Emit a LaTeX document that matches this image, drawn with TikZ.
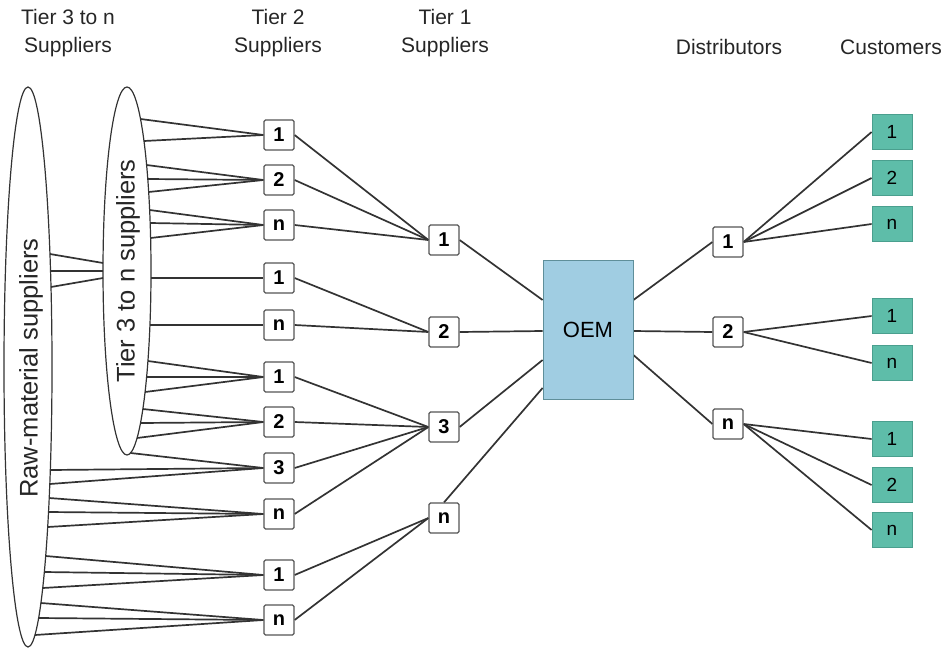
\documentclass[tikz,border=0pt]{standalone}
\usepackage{fontspec}
\setmainfont{Liberation Sans}
\usetikzlibrary{shapes.geometric,backgrounds}
\definecolor{custfill}{HTML}{5EBDA9}
\definecolor{custdraw}{HTML}{4A9F8E}
\definecolor{oemfill}{HTML}{A0CDE2}
\definecolor{oemdraw}{HTML}{5F8F9A}
\definecolor{linecol}{HTML}{333333}
\definecolor{boxdraw}{HTML}{555555}
\begin{document}
\begin{tikzpicture}[x=1pt,y=-1pt,
  header/.style={font=\fontsize{21}{28}\selectfont, align=center, text=black!85},
  tierbox/.style={draw=boxdraw, fill=white, line width=1.2pt, rounded corners=1.5pt,
    minimum width=30pt, minimum height=30pt, inner sep=0pt,
    font=\fontsize{20}{20}\selectfont\bfseries},
  custbox/.style={draw=custdraw, fill=custfill, line width=0.8pt,
    minimum width=40pt, minimum height=35pt, inner sep=0pt,
    font=\fontsize{19}{19}\selectfont},
  oembox/.style={draw=oemdraw, fill=oemfill, line width=0.8pt,
    minimum width=90pt, minimum height=139pt, inner sep=0pt,
    font=\fontsize{22}{22}\selectfont},
  oval/.style={draw=linecol, line width=1.2pt, ellipse, inner sep=0pt},
  ovaltext/.style={rotate=90, font=\fontsize{25.5}{25.5}\selectfont, text=black!85},
  link/.style={draw=linecol, line width=1.7pt}
]
\useasboundingbox (0,0) rectangle (945,648);

% headers
\node[header] (h3) at (68,33) {Tier 3 to n\\Suppliers};
\node[header] (h2) at (278,33) {Tier 2\\Suppliers};
\node[header] (h1) at (445,33) {Tier 1\\Suppliers};
\node[header] (hd) at (729,47) {Distributors};
\node[header] (hc) at (891,47) {Customers};

% ellipses
\node[oval, minimum width=48pt, minimum height=560pt] (raw) at (28,367) {};
\node[oval, minimum width=48pt, minimum height=368pt] (t3) at (127,271) {};
\node[ovaltext] (rawlab) at (31,368) {Raw-material suppliers};
\node[ovaltext] (t3lab) at (128,271) {Tier 3 to n suppliers};

% tier 2
\node[tierbox] (a1) at (279,135) {1};
\node[tierbox] (a2) at (279,180) {2};
\node[tierbox] (a3) at (279,225) {n};
\node[tierbox] (a4) at (279,278) {1};
\node[tierbox] (a5) at (279,325) {n};
\node[tierbox] (a6) at (279,377) {1};
\node[tierbox] (a7) at (279,422) {2};
\node[tierbox] (a8) at (279,468) {3};
\node[tierbox] (a9) at (279,514) {n};
\node[tierbox] (a10) at (279,575) {1};
\node[tierbox] (a11) at (279,620) {n};

% tier 1
\node[tierbox] (b1) at (444,240) {1};
\node[tierbox] (b2) at (444,332) {2};
\node[tierbox] (b3) at (444,427) {3};
\node[tierbox] (b4) at (444,518) {n};

% OEM
\node[oembox] (oem) at (588,330) {OEM};

% distributors
\node[tierbox] (d1) at (728,242) {1};
\node[tierbox] (d2) at (728,332) {2};
\node[tierbox] (d3) at (728,424) {n};

% customers
\node[custbox] (c1) at (892,132) {1};
\node[custbox] (c2) at (892,178) {2};
\node[custbox] (c3) at (892,224) {n};
\node[custbox] (c4) at (892,316) {1};
\node[custbox] (c5) at (892,363) {n};
\node[custbox] (c6) at (892,439) {1};
\node[custbox] (c7) at (892,485) {2};
\node[custbox] (c8) at (892,530) {n};

\begin{scope}[on background layer]
% raw -> tier 3 oval
\foreach \ya/\yb in {254/263, 271/271, 287/278}
  \path[link] ({28+24*sqrt(1-((\ya-367)/280)*((\ya-367)/280))},\ya)
    -- ({127-24*sqrt(1-((\yb-271)/184)*((\yb-271)/184))},\yb);
% tier 3 oval -> tier 2
\foreach \y/\b in {119/a1, 141/a1, 165/a2, 179/a2, 192/a2, 210/a3, 223/a3, 238/a3,
    278/a4, 325/a5, 361/a6, 377/a6, 392/a6, 409/a7, 423/a7, 438/a7, 453/a8}
  \path[link] ({127+24*sqrt(1-((\y-271)/184)*((\y-271)/184))},\y) -- (\b.west);
% raw -> tier 2
\foreach \y/\b in {470/a8, 484/a8, 498/a9, 512/a9, 527/a9, 556/a10, 572/a10, 588/a10,
    603/a11, 618/a11, 635/a11}
  \path[link] ({28+24*sqrt(1-((\y-367)/280)*((\y-367)/280))},\y) -- (\b.west);
% tier 2 -> tier 1
\foreach \a/\b in {a1/b1, a2/b1, a3/b1, a4/b2, a5/b2, a6/b3, a7/b3, a8/b3, a9/b3, a10/b4, a11/b4}
  \path[link] (\a.east) -- (\b.west);
% tier 1 -> OEM
\path[link] (b1.east) -- ([yshift=30pt]oem.west);
\path[link] (b2.east) -- ([yshift=-1pt]oem.west);
\path[link] (b3.east) -- ([yshift=-30pt]oem.west);
\path[link] (b4.north) -- ([yshift=-58pt]oem.west);
% OEM -> distributors
\path[link] ([yshift=30pt]oem.east) -- (d1.west);
\path[link] ([yshift=-1pt]oem.east) -- (d2.west);
\path[link] ([yshift=-25pt]oem.east) -- (d3.west);
% distributors -> customers
\foreach \d/\c in {d1/c1, d1/c2, d1/c3, d2/c4, d2/c5, d3/c6, d3/c7, d3/c8}
  \path[link] (\d.east) -- (\c.west);
\end{scope}
\end{tikzpicture}
\end{document}
